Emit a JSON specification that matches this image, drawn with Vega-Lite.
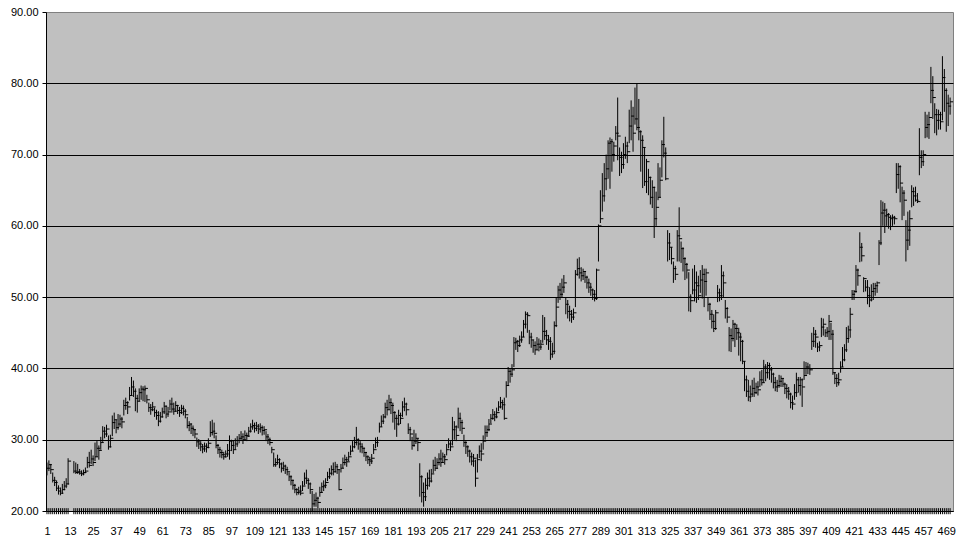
{
"$schema": "https://vega.github.io/schema/vega-lite/v6.json",
"width": 907, "height": 499,
"autosize": "none",
"padding": {"left": 46, "top": 12, "right": 10, "bottom": 28},
"background": "white",
"config": {"view": {"fill": "#C0C0C0", "stroke": "#808080", "strokeWidth": 1}},
"data": {"values": [
{"i":1,"h":26.8,"l":25.0,"c":26.0},{"i":2,"h":27.1,"l":25.6,"c":26.5},{"i":3,"h":26.6,"l":25.2,"c":25.8},{"i":4,"h":25.4,"l":24.0,"c":24.3},{"i":5,"h":24.8,"l":23.5,"c":24.0},{"i":6,"h":24.3,"l":22.8,"c":23.2},{"i":7,"h":23.6,"l":22.3,"c":22.8},{"i":8,"h":23.3,"l":22.2,"c":22.5},{"i":9,"h":23.8,"l":22.4,"c":23.0},{"i":10,"h":24.2,"l":22.9,"c":23.5},
{"i":11,"h":24.6,"l":23.2,"c":23.8},{"i":12,"h":27.4,"l":23.7,"c":27.0},{"i":15,"h":27.0,"l":25.3,"c":25.6},{"i":16,"h":26.8,"l":25.2,"c":25.4},{"i":17,"h":26.6,"l":25.2,"c":25.5},{"i":18,"h":25.9,"l":25.1,"c":25.3},{"i":19,"h":25.7,"l":24.9,"c":25.2},{"i":20,"h":25.8,"l":25.0,"c":25.4},
{"i":21,"h":26.1,"l":25.3,"c":25.6},{"i":22,"h":27.6,"l":26.0,"c":26.8},{"i":23,"h":28.3,"l":26.1,"c":26.4},{"i":24,"h":28.6,"l":26.6,"c":27.3},{"i":25,"h":27.8,"l":26.3,"c":26.8},{"i":26,"h":29.6,"l":27.0,"c":27.6},{"i":27,"h":29.8,"l":27.6,"c":28.8},{"i":28,"h":29.2,"l":27.2,"c":28.5},{"i":29,"h":30.4,"l":28.6,"c":29.6},{"i":30,"h":31.9,"l":29.7,"c":31.2},
{"i":31,"h":31.8,"l":30.2,"c":30.8},{"i":32,"h":32.1,"l":30.4,"c":31.5},{"i":33,"h":30.6,"l":28.6,"c":29.0},{"i":34,"h":30.7,"l":28.9,"c":30.2},{"i":35,"h":33.4,"l":30.5,"c":32.4},{"i":36,"h":33.8,"l":31.5,"c":32.8},{"i":37,"h":32.8,"l":30.9,"c":31.7},{"i":38,"h":33.6,"l":31.4,"c":32.2},{"i":39,"h":33.5,"l":31.8,"c":32.9},{"i":40,"h":33.2,"l":31.6,"c":32.5},
{"i":41,"h":35.6,"l":33.4,"c":34.8},{"i":42,"h":35.9,"l":34.2,"c":35.2},{"i":43,"h":35.4,"l":33.6,"c":34.6},{"i":44,"h":37.4,"l":35.5,"c":36.2},{"i":45,"h":38.8,"l":36.2,"c":37.4},{"i":46,"h":38.3,"l":36.0,"c":36.8},{"i":47,"h":37.2,"l":34.0,"c":35.8},{"i":48,"h":36.3,"l":33.8,"c":35.4},{"i":49,"h":37.2,"l":35.4,"c":36.6},{"i":50,"h":37.6,"l":35.6,"c":37.1},
{"i":51,"h":37.5,"l":35.4,"c":37.0},{"i":52,"h":37.6,"l":35.3,"c":37.2},{"i":53,"h":36.3,"l":35.1,"c":35.6},{"i":54,"h":35.2,"l":33.9,"c":34.5},{"i":55,"h":35.0,"l":33.5,"c":34.2},{"i":56,"h":35.3,"l":34.0,"c":34.6},{"i":57,"h":34.5,"l":33.2,"c":33.8},{"i":58,"h":34.2,"l":32.8,"c":33.4},{"i":59,"h":34.0,"l":31.9,"c":32.6},{"i":60,"h":33.9,"l":32.4,"c":33.2},
{"i":61,"h":34.5,"l":33.1,"c":33.9},{"i":62,"h":35.3,"l":33.6,"c":34.7},{"i":63,"h":34.8,"l":33.0,"c":33.6},{"i":64,"h":34.6,"l":33.2,"c":33.9},{"i":65,"h":35.6,"l":34.1,"c":35.0},{"i":66,"h":35.9,"l":33.8,"c":34.3},{"i":67,"h":35.2,"l":33.5,"c":34.0},{"i":68,"h":35.4,"l":33.9,"c":34.8},{"i":69,"h":34.9,"l":33.6,"c":34.1},{"i":70,"h":34.6,"l":33.2,"c":33.8},
{"i":71,"h":34.9,"l":33.6,"c":34.4},{"i":72,"h":34.8,"l":33.4,"c":34.0},{"i":73,"h":34.3,"l":33.0,"c":33.5},{"i":74,"h":33.2,"l":31.6,"c":32.0},{"i":75,"h":32.6,"l":31.2,"c":32.2},{"i":76,"h":32.3,"l":30.8,"c":31.6},{"i":77,"h":32.0,"l":30.5,"c":31.4},{"i":78,"h":31.5,"l":30.2,"c":30.8},{"i":79,"h":30.3,"l":29.0,"c":29.7},{"i":80,"h":30.1,"l":28.7,"c":29.4},
{"i":81,"h":29.8,"l":28.4,"c":29.0},{"i":82,"h":29.4,"l":28.1,"c":28.7},{"i":83,"h":29.6,"l":28.3,"c":29.1},{"i":84,"h":29.5,"l":28.2,"c":28.9},{"i":85,"h":30.2,"l":28.8,"c":29.5},{"i":86,"h":32.6,"l":30.4,"c":31.0},{"i":87,"h":32.8,"l":30.6,"c":31.2},{"i":88,"h":32.4,"l":30.2,"c":30.9},{"i":89,"h":30.6,"l":28.8,"c":29.2},{"i":90,"h":29.4,"l":28.0,"c":28.6},
{"i":91,"h":29.0,"l":27.5,"c":28.2},{"i":92,"h":28.6,"l":27.4,"c":27.9},{"i":93,"h":28.3,"l":27.2,"c":27.6},{"i":94,"h":28.5,"l":27.5,"c":28.0},{"i":95,"h":29.4,"l":27.6,"c":28.5},{"i":96,"h":30.6,"l":27.2,"c":29.8},{"i":97,"h":30.0,"l":28.4,"c":29.2},{"i":98,"h":29.9,"l":28.0,"c":28.6},{"i":99,"h":30.2,"l":28.6,"c":29.4},{"i":100,"h":30.5,"l":29.0,"c":29.9},
{"i":101,"h":30.8,"l":29.5,"c":30.2},{"i":102,"h":31.2,"l":29.8,"c":30.4},{"i":103,"h":30.9,"l":29.4,"c":30.0},{"i":104,"h":31.3,"l":30.0,"c":30.6},{"i":105,"h":31.0,"l":29.8,"c":30.5},{"i":106,"h":31.8,"l":30.4,"c":31.2},{"i":107,"h":32.3,"l":31.0,"c":31.8},{"i":108,"h":32.8,"l":31.4,"c":32.0},{"i":109,"h":32.4,"l":31.0,"c":31.6},{"i":110,"h":32.5,"l":31.2,"c":31.9},
{"i":111,"h":32.2,"l":30.8,"c":31.5},{"i":112,"h":32.3,"l":31.0,"c":31.7},{"i":113,"h":32.0,"l":30.6,"c":31.3},{"i":114,"h":31.9,"l":30.7,"c":31.4},{"i":115,"h":31.2,"l":29.8,"c":30.4},{"i":116,"h":30.8,"l":29.4,"c":30.0},{"i":117,"h":30.3,"l":29.2,"c":29.6},{"i":118,"h":29.0,"l":28.1,"c":28.6},{"i":119,"h":28.2,"l":26.2,"c":26.5},{"i":120,"h":27.4,"l":26.2,"c":26.8},
{"i":121,"h":27.9,"l":26.5,"c":27.2},{"i":122,"h":27.4,"l":26.0,"c":26.6},{"i":123,"h":26.8,"l":25.4,"c":26.0},{"i":124,"h":26.9,"l":25.6,"c":26.3},{"i":125,"h":26.5,"l":25.2,"c":25.8},{"i":126,"h":26.2,"l":25.0,"c":25.5},{"i":127,"h":25.4,"l":24.2,"c":24.8},{"i":128,"h":25.0,"l":23.6,"c":24.3},{"i":129,"h":24.4,"l":23.0,"c":23.6},{"i":130,"h":23.8,"l":22.5,"c":23.0},
{"i":131,"h":23.2,"l":22.2,"c":22.6},{"i":132,"h":23.4,"l":22.3,"c":22.8},{"i":133,"h":23.6,"l":22.2,"c":22.5},{"i":134,"h":24.2,"l":22.8,"c":23.5},{"i":135,"h":25.4,"l":23.6,"c":24.6},{"i":136,"h":25.8,"l":23.8,"c":24.3},{"i":137,"h":24.6,"l":23.1,"c":23.8},{"i":138,"h":24.0,"l":22.4,"c":23.0},{"i":139,"h":22.8,"l":20.0,"c":21.0},{"i":140,"h":22.4,"l":20.6,"c":21.5},
{"i":141,"h":22.6,"l":20.6,"c":21.8},{"i":142,"h":22.0,"l":20.4,"c":21.2},{"i":143,"h":23.4,"l":22.0,"c":22.6},{"i":144,"h":24.0,"l":22.6,"c":23.4},{"i":145,"h":24.3,"l":22.8,"c":23.6},{"i":146,"h":24.6,"l":23.2,"c":24.0},{"i":147,"h":25.5,"l":24.2,"c":24.8},{"i":148,"h":26.0,"l":24.5,"c":25.3},{"i":149,"h":26.4,"l":25.0,"c":25.8},{"i":150,"h":26.8,"l":25.0,"c":25.5},
{"i":151,"h":26.9,"l":25.4,"c":26.2},{"i":152,"h":26.6,"l":25.2,"c":25.8},{"i":153,"h":25.8,"l":22.9,"c":23.0},{"i":154,"h":26.6,"l":25.4,"c":26.0},{"i":155,"h":27.5,"l":26.0,"c":26.8},{"i":156,"h":27.9,"l":26.4,"c":27.2},{"i":157,"h":27.6,"l":26.2,"c":26.9},{"i":158,"h":28.3,"l":27.0,"c":27.6},{"i":159,"h":29.2,"l":27.8,"c":28.4},{"i":160,"h":29.8,"l":28.4,"c":29.0},
{"i":161,"h":30.4,"l":28.8,"c":29.6},{"i":162,"h":31.8,"l":29.2,"c":30.0},{"i":163,"h":30.2,"l":28.6,"c":29.4},{"i":164,"h":29.8,"l":28.2,"c":29.0},{"i":165,"h":29.5,"l":28.1,"c":28.8},{"i":166,"h":28.9,"l":27.6,"c":28.2},{"i":167,"h":28.3,"l":27.0,"c":27.6},{"i":168,"h":27.8,"l":26.6,"c":27.2},{"i":169,"h":27.6,"l":26.3,"c":27.0},{"i":170,"h":28.0,"l":26.6,"c":27.4},
{"i":171,"h":29.4,"l":28.0,"c":28.6},{"i":172,"h":30.3,"l":28.8,"c":29.6},{"i":173,"h":30.4,"l":29.0,"c":29.9},{"i":174,"h":32.4,"l":31.0,"c":31.8},{"i":175,"h":33.4,"l":31.8,"c":32.6},{"i":176,"h":33.6,"l":32.2,"c":33.2},{"i":177,"h":35.2,"l":33.0,"c":34.5},{"i":178,"h":35.6,"l":33.4,"c":34.2},{"i":179,"h":36.3,"l":34.2,"c":35.2},{"i":180,"h":35.8,"l":33.6,"c":34.8},
{"i":181,"h":35.2,"l":32.4,"c":33.8},{"i":182,"h":34.0,"l":31.4,"c":33.0},{"i":183,"h":33.5,"l":30.4,"c":32.2},{"i":184,"h":34.2,"l":32.0,"c":33.4},{"i":185,"h":33.8,"l":32.2,"c":33.0},{"i":186,"h":35.4,"l":33.2,"c":34.6},{"i":187,"h":35.9,"l":34.0,"c":35.0},{"i":188,"h":35.2,"l":33.4,"c":34.2},{"i":189,"h":32.3,"l":30.8,"c":31.4},{"i":190,"h":31.8,"l":29.8,"c":30.8},
{"i":191,"h":30.4,"l":28.6,"c":29.2},{"i":192,"h":31.4,"l":29.0,"c":29.8},{"i":193,"h":30.9,"l":29.4,"c":30.2},{"i":194,"h":30.2,"l":28.4,"c":29.6},{"i":195,"h":26.7,"l":22.0,"c":24.8},{"i":196,"h":25.0,"l":21.2,"c":22.6},{"i":197,"h":24.0,"l":20.6,"c":22.0},{"i":198,"h":24.6,"l":21.4,"c":23.6},{"i":199,"h":25.4,"l":23.0,"c":24.6},{"i":200,"h":25.8,"l":23.4,"c":24.2},
{"i":201,"h":25.9,"l":24.0,"c":25.2},{"i":202,"h":27.2,"l":25.3,"c":26.4},{"i":203,"h":27.6,"l":25.6,"c":26.0},{"i":204,"h":27.4,"l":25.9,"c":26.8},{"i":205,"h":28.1,"l":26.4,"c":27.3},{"i":206,"h":28.6,"l":26.2,"c":26.8},{"i":207,"h":28.2,"l":26.8,"c":27.6},{"i":208,"h":28.0,"l":26.5,"c":27.2},{"i":209,"h":29.4,"l":27.8,"c":28.6},{"i":210,"h":30.2,"l":28.8,"c":29.4},
{"i":211,"h":29.8,"l":28.4,"c":29.0},{"i":212,"h":33.2,"l":29.2,"c":31.4},{"i":213,"h":32.6,"l":30.0,"c":31.8},{"i":214,"h":32.0,"l":29.8,"c":30.6},{"i":215,"h":34.5,"l":31.6,"c":33.0},{"i":216,"h":33.8,"l":31.2,"c":32.4},{"i":217,"h":32.8,"l":30.8,"c":31.6},{"i":218,"h":30.7,"l":29.0,"c":29.6},{"i":219,"h":29.8,"l":28.0,"c":29.0},{"i":220,"h":29.2,"l":27.6,"c":28.4},
{"i":221,"h":28.6,"l":26.8,"c":27.6},{"i":222,"h":28.2,"l":26.4,"c":27.0},{"i":223,"h":28.0,"l":26.2,"c":27.4},{"i":224,"h":27.2,"l":23.4,"c":24.6},{"i":225,"h":28.0,"l":25.4,"c":27.2},{"i":226,"h":29.2,"l":27.4,"c":28.4},{"i":227,"h":29.5,"l":27.0,"c":28.0},{"i":228,"h":30.6,"l":28.6,"c":29.8},{"i":229,"h":32.0,"l":30.0,"c":31.0},{"i":230,"h":32.0,"l":30.4,"c":31.4},
{"i":231,"h":32.9,"l":31.2,"c":32.2},{"i":232,"h":33.6,"l":32.3,"c":33.0},{"i":233,"h":34.3,"l":32.8,"c":33.5},{"i":234,"h":34.0,"l":32.6,"c":33.2},{"i":235,"h":34.5,"l":33.0,"c":33.8},{"i":236,"h":35.4,"l":34.0,"c":34.6},{"i":237,"h":36.0,"l":34.4,"c":35.2},{"i":238,"h":35.6,"l":34.2,"c":34.9},{"i":239,"h":35.9,"l":32.8,"c":33.0},{"i":240,"h":38.2,"l":35.9,"c":37.6},
{"i":241,"h":40.2,"l":37.6,"c":39.6},{"i":242,"h":40.0,"l":38.0,"c":39.2},{"i":243,"h":40.6,"l":38.8,"c":39.8},{"i":244,"h":44.4,"l":40.2,"c":43.6},{"i":245,"h":44.3,"l":42.6,"c":43.8},{"i":246,"h":44.0,"l":42.3,"c":43.2},{"i":247,"h":44.6,"l":43.0,"c":44.0},{"i":248,"h":45.2,"l":43.6,"c":44.4},{"i":249,"h":46.8,"l":44.4,"c":46.2},{"i":250,"h":48.0,"l":45.6,"c":47.6},
{"i":251,"h":47.9,"l":45.0,"c":47.4},{"i":252,"h":45.4,"l":43.4,"c":44.4},{"i":253,"h":45.0,"l":42.9,"c":44.0},{"i":254,"h":44.0,"l":42.2,"c":43.2},{"i":255,"h":43.8,"l":41.9,"c":42.6},{"i":256,"h":44.4,"l":42.6,"c":43.4},{"i":257,"h":44.2,"l":42.4,"c":43.0},{"i":258,"h":44.0,"l":42.6,"c":43.4},{"i":259,"h":47.5,"l":43.6,"c":45.2},{"i":260,"h":47.2,"l":44.0,"c":44.6},
{"i":261,"h":45.4,"l":43.3,"c":44.0},{"i":262,"h":44.7,"l":42.6,"c":43.8},{"i":263,"h":44.4,"l":41.2,"c":42.0},{"i":264,"h":43.6,"l":41.5,"c":42.4},{"i":265,"h":46.6,"l":42.0,"c":46.0},{"i":266,"h":50.0,"l":45.8,"c":48.6},{"i":267,"h":51.6,"l":49.2,"c":51.0},{"i":268,"h":52.0,"l":49.6,"c":50.4},{"i":269,"h":52.6,"l":50.0,"c":51.4},{"i":270,"h":53.1,"l":50.6,"c":52.0},
{"i":271,"h":50.0,"l":47.6,"c":49.0},{"i":272,"h":49.6,"l":47.0,"c":48.0},{"i":273,"h":48.8,"l":46.6,"c":47.6},{"i":274,"h":48.2,"l":46.4,"c":47.2},{"i":275,"h":48.4,"l":46.8,"c":47.8},{"i":276,"h":53.8,"l":48.6,"c":53.2},{"i":277,"h":55.4,"l":53.0,"c":54.0},{"i":278,"h":55.6,"l":52.6,"c":53.4},{"i":279,"h":54.2,"l":52.2,"c":53.0},{"i":280,"h":54.0,"l":52.4,"c":53.6},
{"i":281,"h":53.6,"l":52.0,"c":52.8},{"i":282,"h":53.0,"l":51.2,"c":52.0},{"i":283,"h":52.6,"l":50.6,"c":51.4},{"i":284,"h":52.0,"l":50.2,"c":51.0},{"i":285,"h":51.2,"l":49.6,"c":50.4},{"i":286,"h":51.0,"l":49.4,"c":49.8},{"i":287,"h":54.0,"l":49.6,"c":53.8},{"i":288,"h":60.2,"l":55.0,"c":60.0},{"i":289,"h":65.0,"l":60.4,"c":61.0},{"i":290,"h":67.4,"l":62.0,"c":64.2},
{"i":291,"h":68.8,"l":63.4,"c":66.6},{"i":292,"h":70.0,"l":65.0,"c":68.0},{"i":293,"h":72.0,"l":66.6,"c":71.6},{"i":294,"h":72.4,"l":65.2,"c":71.8},{"i":295,"h":72.2,"l":67.6,"c":70.0},{"i":296,"h":71.8,"l":69.0,"c":71.2},{"i":297,"h":74.0,"l":72.0,"c":73.0},{"i":298,"h":78.0,"l":69.2,"c":72.6},{"i":299,"h":71.0,"l":67.0,"c":69.6},{"i":300,"h":70.4,"l":67.4,"c":68.6},
{"i":301,"h":71.6,"l":68.0,"c":70.0},{"i":302,"h":72.5,"l":69.4,"c":71.2},{"i":303,"h":71.8,"l":68.8,"c":70.4},{"i":304,"h":76.3,"l":71.6,"c":74.0},{"i":305,"h":77.6,"l":72.0,"c":75.4},{"i":306,"h":76.7,"l":70.4,"c":73.0},{"i":307,"h":79.4,"l":74.2,"c":75.0},{"i":308,"h":80.0,"l":73.4,"c":73.8},{"i":309,"h":77.8,"l":72.0,"c":73.2},{"i":310,"h":73.4,"l":67.6,"c":72.0},
{"i":311,"h":72.7,"l":65.3,"c":71.0},{"i":312,"h":71.0,"l":65.6,"c":66.2},{"i":313,"h":69.4,"l":64.6,"c":69.0},{"i":314,"h":68.0,"l":64.3,"c":66.8},{"i":315,"h":66.9,"l":63.0,"c":64.0},{"i":316,"h":66.4,"l":62.5,"c":65.4},{"i":317,"h":65.5,"l":58.3,"c":61.0},{"i":318,"h":64.8,"l":60.0,"c":62.6},{"i":319,"h":68.8,"l":63.6,"c":64.0},{"i":320,"h":68.2,"l":64.0,"c":66.4},
{"i":321,"h":72.0,"l":66.8,"c":71.4},{"i":322,"h":75.3,"l":69.6,"c":70.2},{"i":323,"h":71.0,"l":66.4,"c":66.6},{"i":324,"h":59.4,"l":55.0,"c":57.6},{"i":325,"h":59.0,"l":55.2,"c":57.0},{"i":326,"h":57.0,"l":54.6,"c":55.4},{"i":327,"h":55.0,"l":52.0,"c":54.0},{"i":328,"h":54.4,"l":52.4,"c":53.2},{"i":329,"h":59.4,"l":55.0,"c":58.6},{"i":330,"h":62.6,"l":55.0,"c":58.2},
{"i":331,"h":57.8,"l":54.8,"c":56.8},{"i":332,"h":57.0,"l":53.6,"c":55.4},{"i":333,"h":55.6,"l":52.4,"c":54.6},{"i":334,"h":54.8,"l":52.6,"c":53.8},{"i":335,"h":53.5,"l":48.0,"c":50.0},{"i":336,"h":50.4,"l":47.9,"c":49.5},{"i":337,"h":54.0,"l":50.4,"c":51.0},{"i":338,"h":54.5,"l":49.4,"c":52.0},{"i":339,"h":53.6,"l":49.2,"c":51.6},{"i":340,"h":53.0,"l":49.6,"c":50.2},
{"i":341,"h":53.8,"l":50.6,"c":52.4},{"i":342,"h":54.5,"l":49.8,"c":53.2},{"i":343,"h":54.0,"l":48.6,"c":52.2},{"i":344,"h":54.0,"l":50.2,"c":53.4},{"i":345,"h":50.0,"l":48.0,"c":49.0},{"i":346,"h":49.2,"l":46.8,"c":47.6},{"i":347,"h":48.2,"l":45.6,"c":46.6},{"i":348,"h":47.6,"l":45.1,"c":45.6},{"i":349,"h":48.2,"l":45.4,"c":47.8},{"i":350,"h":51.7,"l":49.3,"c":50.6},
{"i":351,"h":51.2,"l":49.4,"c":50.2},{"i":352,"h":54.5,"l":49.6,"c":53.0},{"i":353,"h":53.6,"l":50.0,"c":52.0},{"i":354,"h":49.6,"l":47.0,"c":48.4},{"i":355,"h":48.6,"l":46.4,"c":47.2},{"i":356,"h":45.8,"l":42.4,"c":44.6},{"i":357,"h":45.6,"l":42.3,"c":44.2},{"i":358,"h":46.8,"l":43.8,"c":46.2},{"i":359,"h":46.4,"l":43.0,"c":45.6},{"i":360,"h":46.2,"l":44.0,"c":45.0},
{"i":361,"h":45.7,"l":41.8,"c":44.4},{"i":362,"h":45.0,"l":41.0,"c":43.8},{"i":363,"h":44.0,"l":40.6,"c":41.0},{"i":364,"h":41.0,"l":36.8,"c":38.4},{"i":365,"h":39.0,"l":36.0,"c":36.8},{"i":366,"h":38.4,"l":35.4,"c":36.0},{"i":367,"h":37.6,"l":35.3,"c":36.4},{"i":368,"h":38.4,"l":36.0,"c":37.2},{"i":369,"h":38.7,"l":36.0,"c":36.6},{"i":370,"h":38.0,"l":36.4,"c":37.4},
{"i":371,"h":38.2,"l":36.2,"c":37.0},{"i":372,"h":39.6,"l":37.4,"c":38.4},{"i":373,"h":39.8,"l":37.6,"c":38.0},{"i":374,"h":41.2,"l":38.0,"c":40.2},{"i":375,"h":40.6,"l":38.2,"c":39.4},{"i":376,"h":40.9,"l":38.6,"c":40.4},{"i":377,"h":40.8,"l":38.4,"c":39.8},{"i":378,"h":40.2,"l":38.0,"c":39.2},{"i":379,"h":39.4,"l":37.2,"c":38.0},{"i":380,"h":38.8,"l":36.8,"c":37.4},
{"i":381,"h":38.4,"l":36.7,"c":37.6},{"i":382,"h":39.1,"l":37.3,"c":38.2},{"i":383,"h":39.0,"l":37.4,"c":38.6},{"i":384,"h":38.6,"l":37.4,"c":37.8},{"i":385,"h":38.0,"l":36.4,"c":37.2},{"i":386,"h":37.8,"l":35.8,"c":36.8},{"i":387,"h":37.4,"l":35.6,"c":36.4},{"i":388,"h":36.6,"l":34.4,"c":35.2},{"i":389,"h":36.2,"l":34.2,"c":35.0},{"i":390,"h":37.8,"l":35.6,"c":36.6},
{"i":391,"h":39.4,"l":36.0,"c":38.4},{"i":392,"h":38.8,"l":36.6,"c":37.6},{"i":393,"h":38.8,"l":36.2,"c":38.4},{"i":394,"h":38.6,"l":34.6,"c":37.4},{"i":395,"h":41.0,"l":38.4,"c":39.0},{"i":396,"h":40.9,"l":39.1,"c":40.2},{"i":397,"h":40.8,"l":39.2,"c":40.0},{"i":398,"h":40.6,"l":39.1,"c":39.8},{"i":399,"h":45.0,"l":42.6,"c":43.8},{"i":400,"h":45.8,"l":43.0,"c":44.8},
{"i":401,"h":45.4,"l":42.9,"c":44.4},{"i":402,"h":43.6,"l":42.3,"c":43.0},{"i":403,"h":43.8,"l":42.4,"c":43.2},{"i":404,"h":47.1,"l":44.4,"c":45.8},{"i":405,"h":47.0,"l":44.6,"c":46.2},{"i":406,"h":45.5,"l":44.4,"c":45.0},{"i":407,"h":45.8,"l":44.4,"c":45.2},{"i":408,"h":47.5,"l":44.0,"c":46.6},{"i":409,"h":46.4,"l":44.0,"c":44.8},{"i":410,"h":45.4,"l":39.1,"c":39.4},
{"i":411,"h":39.5,"l":37.8,"c":38.6},{"i":412,"h":39.2,"l":37.4,"c":38.0},{"i":413,"h":39.4,"l":37.6,"c":38.4},{"i":414,"h":41.0,"l":39.4,"c":40.2},{"i":415,"h":43.0,"l":40.2,"c":41.2},{"i":416,"h":43.4,"l":41.0,"c":42.6},{"i":417,"h":45.8,"l":42.3,"c":44.2},{"i":418,"h":46.0,"l":43.6,"c":45.4},{"i":419,"h":48.5,"l":44.3,"c":47.6},{"i":420,"h":51.0,"l":49.6,"c":50.4},
{"i":421,"h":51.0,"l":49.6,"c":50.8},{"i":422,"h":54.5,"l":50.6,"c":53.8},{"i":423,"h":54.0,"l":51.6,"c":53.0},{"i":424,"h":59.1,"l":54.9,"c":57.0},{"i":425,"h":57.6,"l":55.0,"c":55.8},{"i":426,"h":52.8,"l":50.7,"c":52.6},{"i":427,"h":52.4,"l":50.8,"c":51.4},{"i":428,"h":52.4,"l":49.0,"c":50.2},{"i":429,"h":51.4,"l":48.6,"c":49.6},{"i":430,"h":51.8,"l":49.4,"c":50.8},
{"i":431,"h":52.0,"l":49.6,"c":51.2},{"i":432,"h":52.0,"l":50.2,"c":51.6},{"i":433,"h":52.2,"l":50.6,"c":52.0},{"i":434,"h":58.0,"l":54.5,"c":57.6},{"i":435,"h":63.6,"l":57.3,"c":61.8},{"i":436,"h":63.4,"l":60.0,"c":62.2},{"i":437,"h":63.2,"l":59.0,"c":61.4},{"i":438,"h":62.4,"l":60.0,"c":61.6},{"i":439,"h":61.8,"l":59.6,"c":61.2},{"i":440,"h":61.5,"l":59.4,"c":61.0},
{"i":441,"h":61.6,"l":60.0,"c":61.2},{"i":442,"h":61.4,"l":60.2,"c":61.0},{"i":443,"h":68.8,"l":64.6,"c":67.2},{"i":444,"h":68.8,"l":65.2,"c":68.3},{"i":445,"h":68.5,"l":63.3,"c":66.0},{"i":446,"h":65.5,"l":60.8,"c":64.6},{"i":447,"h":65.0,"l":61.4,"c":63.6},{"i":448,"h":60.8,"l":55.0,"c":58.0},{"i":449,"h":62.0,"l":56.6,"c":59.4},{"i":450,"h":62.2,"l":57.2,"c":61.0},
{"i":451,"h":65.7,"l":62.6,"c":64.8},{"i":452,"h":65.4,"l":62.8,"c":64.2},{"i":453,"h":65.5,"l":63.4,"c":63.6},{"i":454,"h":64.6,"l":63.2,"c":63.4},{"i":455,"h":73.7,"l":67.1,"c":69.6},{"i":456,"h":70.6,"l":68.1,"c":69.0},{"i":457,"h":70.6,"l":68.4,"c":70.0},{"i":458,"h":76.0,"l":72.3,"c":73.8},{"i":459,"h":75.6,"l":72.4,"c":74.2},{"i":460,"h":76.0,"l":72.2,"c":75.2},
{"i":461,"h":82.3,"l":77.2,"c":79.0},{"i":462,"h":81.0,"l":75.0,"c":78.0},{"i":463,"h":77.2,"l":73.0,"c":75.6},{"i":464,"h":76.4,"l":72.7,"c":74.8},{"i":465,"h":76.3,"l":73.5,"c":75.6},{"i":466,"h":76.0,"l":73.5,"c":74.6},{"i":467,"h":83.8,"l":74.8,"c":80.8},{"i":468,"h":82.0,"l":76.0,"c":79.0},{"i":469,"h":79.3,"l":73.2,"c":77.2},{"i":470,"h":78.4,"l":74.0,"c":76.8},
{"i":471,"h":78.0,"l":75.6,"c":77.4}
]},
"encoding": {
  "x": {"field": "i", "type": "quantitative",
        "scale": {"domain": [0.5, 472.5], "nice": false, "zero": false},
        "axis": {"title": null, "grid": false, "ticks": false,
                 "values": [1,13,25,37,49,61,73,85,97,109,121,133,145,157,169,181,193,205,217,229,241,253,265,277,289,301,313,325,337,349,361,373,385,397,409,421,433,445,457,469],
                 "labelOverlap": false, "labelFlush": false, "labelBound": false,
                 "labelFont": "Liberation Sans", "labelFontSize": 11, "labelColor": "black",
                 "domainColor": "black", "labelPadding": 14}}
},
"layer": [
  {"mark": {"type": "rule", "color": "black", "strokeWidth": 1, "clip": false},
   "encoding": {
     "y": {"datum": 19.55, "type": "quantitative"},
     "y2": {"datum": 20.4}
   }},
  {"mark": {"type": "rule", "color": "black", "strokeWidth": 1},
   "encoding": {
     "y": {"field": "l", "type": "quantitative",
           "scale": {"domain": [20, 90], "nice": false, "zero": false},
           "axis": {"title": null, "values": [20, 30, 40, 50, 60, 70, 80, 90], "format": ".2f",
                    "labelFont": "Liberation Sans", "labelFontSize": 11, "labelColor": "black",
                    "tickSize": 4, "tickColor": "black", "domainColor": "black", "labelPadding": 4,
                    "grid": true, "gridColor": "black", "gridWidth": 1,
                    "gridOpacity": {"condition": {"test": "datum.value === 90", "value": 0}, "value": 1}}},
     "y2": {"field": "h"}
   }},
  {"mark": {"type": "rule", "color": "black", "strokeWidth": 1, "x2Offset": 3},
   "encoding": {
     "x2": {"field": "i"},
     "y": {"field": "c", "type": "quantitative"}
   }}
]
}
